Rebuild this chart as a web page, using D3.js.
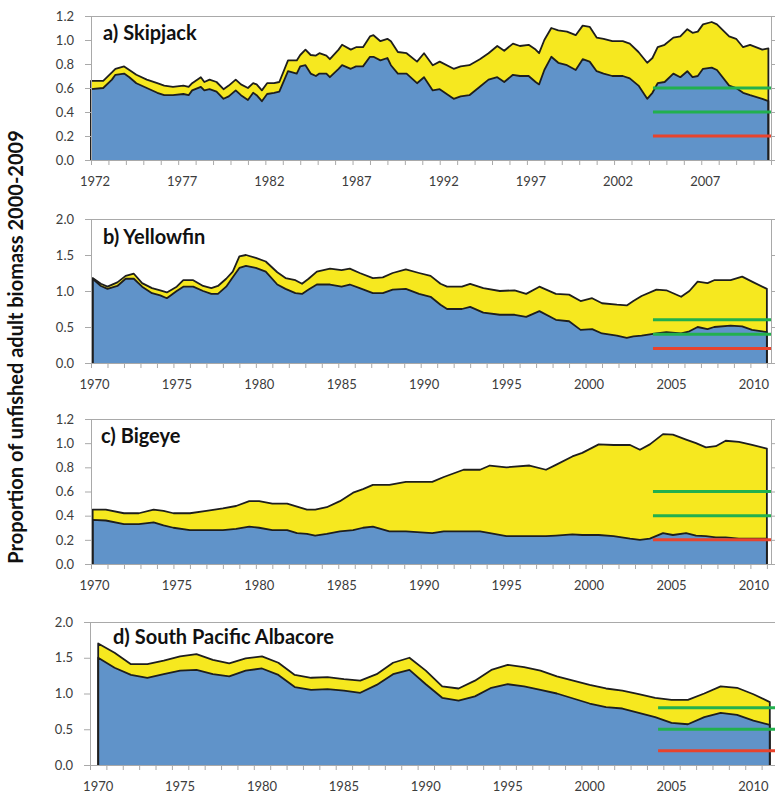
<!DOCTYPE html>
<html>
<head>
<meta charset="utf-8">
<script src="https://cdn.jsdelivr.net/npm/d3@7"></script>
<style>
  body { margin: 0; background: #fff; }
  svg text { font-family: Lato, "Open Sans", sans-serif; }
</style>
</head>
<body>
<div id="chart"></div>
<script>
// a) Skipjack (quarterly series read off the picture)
var skjYears = [1972.0,1972.7,1973.2,1973.4,1973.9,1974.2,1974.6,1975.2,1975.8,1976.2,1976.7,1977.3,1977.6,1977.8,1978.3,1978.5,1978.8,1979.2,1979.6,1979.9,1980.3,1980.6,1981.0,1981.3,1981.5,1981.8,1982.1,1982.5,1982.8,1983.3,1983.8,1984.0,1984.3,1984.6,1984.9,1985.1,1985.5,1985.7,1986.2,1986.4,1986.9,1987.2,1987.6,1988.0,1988.2,1988.6,1989.0,1989.2,1989.6,1990.1,1990.7,1991.1,1991.6,1992.0,1992.8,1993.2,1993.7,1994.3,1994.8,1995.3,1995.7,1996.2,1996.6,1997.1,1997.5,1997.7,1998.0,1998.4,1998.8,1999.3,1999.8,2000.2,2000.6,2001.0,2001.4,2001.9,2002.5,2002.9,2003.4,2003.9,2004.2,2004.5,2004.9,2005.4,2005.8,2006.2,2006.5,2006.8,2007.1,2007.6,2007.9,2008.6,2009.0,2009.4,2009.8,2010.5,2010.85];
var skjUnfished = [0.66,0.66,0.73,0.76,0.78,0.75,0.71,0.67,0.64,0.62,0.61,0.62,0.61,0.64,0.69,0.65,0.67,0.65,0.59,0.62,0.67,0.63,0.60,0.64,0.63,0.58,0.64,0.64,0.65,0.83,0.83,0.875,0.92,0.875,0.87,0.89,0.87,0.84,0.92,0.96,0.92,0.94,0.94,1.03,1.04,0.99,1.01,0.99,0.90,0.89,0.82,0.89,0.79,0.82,0.76,0.78,0.79,0.84,0.89,0.95,0.91,0.97,0.95,0.96,0.92,0.89,1.00,1.10,1.08,1.07,1.04,1.12,1.11,1.02,1.01,0.99,0.99,0.97,0.90,0.81,0.85,0.94,0.96,1.02,1.03,1.09,1.06,1.07,1.13,1.15,1.13,1.03,1.01,0.94,0.96,0.92,0.93];
var skjFished = [0.59,0.60,0.67,0.71,0.72,0.69,0.64,0.60,0.56,0.54,0.54,0.55,0.54,0.58,0.61,0.58,0.59,0.57,0.51,0.53,0.58,0.54,0.50,0.56,0.54,0.49,0.55,0.56,0.57,0.74,0.72,0.78,0.79,0.72,0.70,0.72,0.72,0.69,0.76,0.79,0.76,0.78,0.78,0.86,0.86,0.83,0.85,0.79,0.72,0.72,0.64,0.69,0.58,0.59,0.51,0.53,0.54,0.61,0.67,0.69,0.65,0.71,0.70,0.70,0.65,0.63,0.75,0.86,0.81,0.79,0.75,0.84,0.82,0.74,0.72,0.70,0.70,0.68,0.62,0.51,0.56,0.64,0.65,0.72,0.69,0.74,0.69,0.70,0.76,0.77,0.75,0.62,0.60,0.56,0.54,0.51,0.49];

// b) Yellowfin
var yftYears = [1970.1,1970.6,1971.0,1971.6,1972.1,1972.6,1973.1,1973.7,1974.2,1974.6,1975.2,1975.6,1976.2,1976.8,1977.3,1977.7,1978.2,1978.6,1979.0,1979.4,1980.0,1980.6,1981.3,1981.8,1982.4,1982.8,1983.2,1983.7,1984.5,1985.2,1985.7,1986.3,1987.1,1987.7,1988.3,1989.1,1989.9,1990.6,1991.2,1991.6,1992.5,1993.0,1993.8,1994.8,1995.7,1996.4,1997.2,1998.2,1999.0,1999.7,2000.4,2001.0,2001.9,2002.5,2002.9,2003.4,2004.3,2004.9,2005.8,2006.3,2006.8,2007.4,2007.8,2008.8,2009.5,2010.1,2011.0];
var yftUnfished = [1.18,1.10,1.06,1.12,1.21,1.24,1.11,1.04,1.01,0.98,1.06,1.15,1.15,1.07,1.04,1.07,1.17,1.27,1.48,1.50,1.46,1.41,1.26,1.18,1.15,1.10,1.17,1.27,1.31,1.29,1.31,1.25,1.18,1.19,1.25,1.30,1.25,1.21,1.10,1.06,1.06,1.10,1.04,1.00,1.01,0.96,1.06,0.96,0.95,0.86,0.90,0.83,0.81,0.80,0.86,0.93,1.02,1.01,0.92,1.00,1.13,1.11,1.15,1.15,1.20,1.13,1.03];
var yftFished = [1.17,1.07,1.03,1.07,1.17,1.17,1.06,0.97,0.94,0.90,1.00,1.06,1.06,1.00,0.96,0.96,1.06,1.19,1.32,1.35,1.32,1.27,1.09,1.03,0.97,0.96,1.02,1.09,1.09,1.06,1.09,1.04,0.97,0.97,1.02,1.03,0.96,0.92,0.81,0.75,0.75,0.78,0.70,0.67,0.67,0.64,0.72,0.60,0.58,0.46,0.47,0.41,0.38,0.35,0.37,0.38,0.41,0.43,0.41,0.44,0.50,0.47,0.50,0.52,0.51,0.46,0.43];

// c) Bigeye
var betYears = [1970.1,1970.9,1972.0,1972.9,1973.8,1974.4,1975.0,1976.0,1977.0,1978.0,1978.8,1979.6,1980.2,1981.0,1981.9,1982.5,1983.1,1983.6,1984.3,1985.1,1985.9,1986.5,1987.1,1988.1,1989.1,1990.7,1991.4,1992.6,1993.6,1994.2,1995.2,1996.6,1997.6,1998.2,1999.2,1999.8,2000.8,2001.7,2002.7,2003.3,2003.9,2004.7,2005.3,2006.1,2006.7,2007.3,2007.9,2008.5,2009.3,2010.1,2011.0];
var betUnfished = [0.45,0.45,0.42,0.42,0.45,0.44,0.42,0.42,0.44,0.46,0.48,0.52,0.52,0.50,0.50,0.475,0.45,0.45,0.47,0.52,0.59,0.62,0.655,0.655,0.68,0.68,0.72,0.78,0.78,0.815,0.80,0.815,0.78,0.82,0.89,0.92,0.99,0.985,0.985,0.945,0.99,1.075,1.07,1.03,1.00,0.965,0.975,1.02,1.01,0.985,0.955];
var betFished = [0.365,0.36,0.33,0.33,0.345,0.32,0.30,0.28,0.28,0.28,0.29,0.31,0.30,0.28,0.28,0.255,0.25,0.235,0.25,0.27,0.28,0.30,0.31,0.27,0.27,0.255,0.27,0.27,0.27,0.255,0.23,0.23,0.23,0.235,0.245,0.24,0.24,0.23,0.21,0.20,0.21,0.255,0.24,0.255,0.235,0.23,0.22,0.22,0.21,0.21,0.21];

// d) South Pacific Albacore (annual)
var albYears = d3.range(1970, 2012);
var albUnfished = [1.70,1.57,1.41,1.41,1.46,1.52,1.55,1.47,1.42,1.49,1.52,1.43,1.26,1.22,1.23,1.20,1.18,1.27,1.43,1.50,1.32,1.10,1.07,1.18,1.33,1.40,1.37,1.32,1.24,1.18,1.12,1.07,1.04,0.99,0.94,0.91,0.91,1.00,1.10,1.08,0.99,0.88];
var albFished = [1.50,1.36,1.26,1.22,1.27,1.32,1.33,1.27,1.24,1.32,1.35,1.26,1.09,1.05,1.06,1.04,1.01,1.12,1.27,1.33,1.13,0.94,0.90,0.96,1.08,1.13,1.10,1.05,1.00,0.93,0.86,0.81,0.79,0.73,0.67,0.59,0.57,0.67,0.73,0.70,0.62,0.56];

// reference levels (green = targets, red = limit)
var greenA = [0.6, 0.4], greenB = [0.6, 0.4], greenC = [0.6, 0.4], greenD = [0.8, 0.5];
var redLevel = 0.2;

var labelsA = d3.range(1972, 2008, 5);
var labelsBCD = d3.range(1970, 2011, 5);

var panels = [
  {title: "a) Skipjack", years: skjYears, hi: skjUnfished, lo: skjFished, green: greenA,
   domain: [1972, 2011], ticks: d3.range(1972, 2012), labels: labelsA, labelDx: 4,
   yMax: 1.2, yStep: 0.2, top: 16, bottom: 160, left: 91, right: 771, refFrom: 2004.23, titleX: 103, titleY: 40},
  {title: "b) Yellowfin", years: yftYears, hi: yftUnfished, lo: yftFished, green: greenB,
   domain: [1970, 2011.25], ticks: d3.range(1970, 2012), labels: labelsBCD, labelDx: 3.5,
   yMax: 2.0, yStep: 0.5, top: 219, bottom: 363, left: 91, right: 771, refFrom: 2004.09, titleX: 103, titleY: 244},
  {title: "c) Bigeye", years: betYears, hi: betUnfished, lo: betFished, green: greenC,
   domain: [1970, 2011.25], ticks: d3.range(1970, 2012), labels: labelsBCD, labelDx: 3.5,
   yMax: 1.2, yStep: 0.2, top: 419, bottom: 564, left: 91, right: 771, refFrom: 2004.09, titleX: 101, titleY: 443},
  {title: "d) South Pacific Albacore", years: albYears, hi: albUnfished, lo: albFished, green: greenD,
   domain: [1969.5, 2011.5], ticks: d3.range(1969.5, 2012, 1), labels: labelsBCD, labelDx: 0,
   yMax: 2.0, yStep: 0.5, top: 622, bottom: 765, left: 90, right: 778, refFrom: 2004.18, titleX: 113, titleY: 644}
];

var svg = d3.select("#chart")
  .append("svg")
  .attr("width", 775)
  .attr("height", 793);

var axisGrey = "#a9a9a9";

panels.forEach(function(p) {
  var x = d3.scaleLinear().domain(p.domain).range([p.left, p.right]);
  var y = d3.scaleLinear().domain([0, p.yMax]).range([p.bottom, p.top]);
  var yTicks = d3.range(0, p.yMax + 1e-9, p.yStep);
  var g = svg.append("g");

  var pts = p.years.map(function(d, i) { return {yr: d, hi: p.hi[i], lo: p.lo[i]}; });

  // unfished (yellow) then fished (blue)
  g.append("path").datum(pts)
    .attr("fill", "#f6e81f")
    .attr("d", d3.area().x(d => x(d.yr)).y0(y(0)).y1(d => y(d.hi)));
  g.append("path").datum(pts)
    .attr("fill", "#6093c9")
    .attr("d", d3.area().x(d => x(d.yr)).y0(y(0)).y1(d => y(d.lo)));

  // dark outlines incl. vertical ends
  ["hi", "lo"].forEach(function(k) {
    var line = [[x(pts[0].yr), y(0)]]
      .concat(pts.map(d => [x(d.yr), y(d[k])]))
      .concat([[x(pts[pts.length - 1].yr), y(0)]]);
    g.append("path")
      .attr("d", d3.line()(line))
      .attr("fill", "none")
      .attr("stroke", "#1e1e1e")
      .attr("stroke-width", 1.8)
      .attr("stroke-linejoin", "round");
  });

  // reference lines
  var refEnd = Math.min(p.right, 775);
  p.green.forEach(function(v) {
    g.append("line")
      .attr("x1", x(p.refFrom)).attr("x2", refEnd)
      .attr("y1", y(v)).attr("y2", y(v))
      .attr("stroke", "#22b04e").attr("stroke-width", 3);
  });
  g.append("line")
    .attr("x1", x(p.refFrom)).attr("x2", refEnd)
    .attr("y1", y(redLevel)).attr("y2", y(redLevel))
    .attr("stroke", "#e8432d").attr("stroke-width", 3);

  // frame: top line
  g.append("line")
    .attr("x1", p.left).attr("x2", p.right)
    .attr("y1", p.top + 0.5).attr("y2", p.top + 0.5)
    .attr("stroke", axisGrey);

  // left axis
  var la = g.append("g")
    .attr("transform", "translate(" + p.left + ",0)")
    .call(d3.axisLeft(y).tickValues(yTicks).tickSize(6).tickSizeOuter(0)
      .tickPadding(11).tickFormat(d3.format(".1f")));
  // right axis (no labels)
  var ra = g.append("g")
    .attr("transform", "translate(" + p.right + ",0)")
    .call(d3.axisRight(y).tickValues(yTicks).tickSize(4).tickSizeOuter(0).tickFormat(""));
  // bottom axis ticks
  var ba = g.append("g")
    .attr("transform", "translate(0," + p.bottom + ")")
    .call(d3.axisBottom(x).tickValues(p.ticks).tickSize(5).tickSizeOuter(0).tickFormat(""));

  [la, ra, ba].forEach(function(a) {
    a.select(".domain").attr("stroke", axisGrey);
    a.selectAll(".tick line").attr("stroke", axisGrey);
  });
  la.selectAll(".tick text")
    .attr("fill", "#3c3c3c")
    .style("font-size", "13px");

  // year labels
  g.selectAll(".yr")
    .data(p.labels)
    .enter()
    .append("text")
    .attr("x", d => x(d) + p.labelDx)
    .attr("y", p.bottom + 26)
    .attr("text-anchor", "middle")
    .attr("fill", "#3c3c3c")
    .style("font-size", "13px")
    .text(d => d);

  // panel title
  g.append("text")
    .attr("x", p.titleX)
    .attr("y", p.titleY)
    .attr("fill", "#111")
    .style("font-size", "20px")
    .style("font-weight", "bold")
    .text(p.title);
});

// shared y label
svg.append("text")
  .attr("transform", "translate(23,347) rotate(-90)")
  .attr("text-anchor", "middle")
  .attr("fill", "#111")
  .style("font-size", "20px")
  .style("font-weight", "bold")
  .text("Proportion of unfished adult biomass 2000-2009");
</script>
</body>
</html>
